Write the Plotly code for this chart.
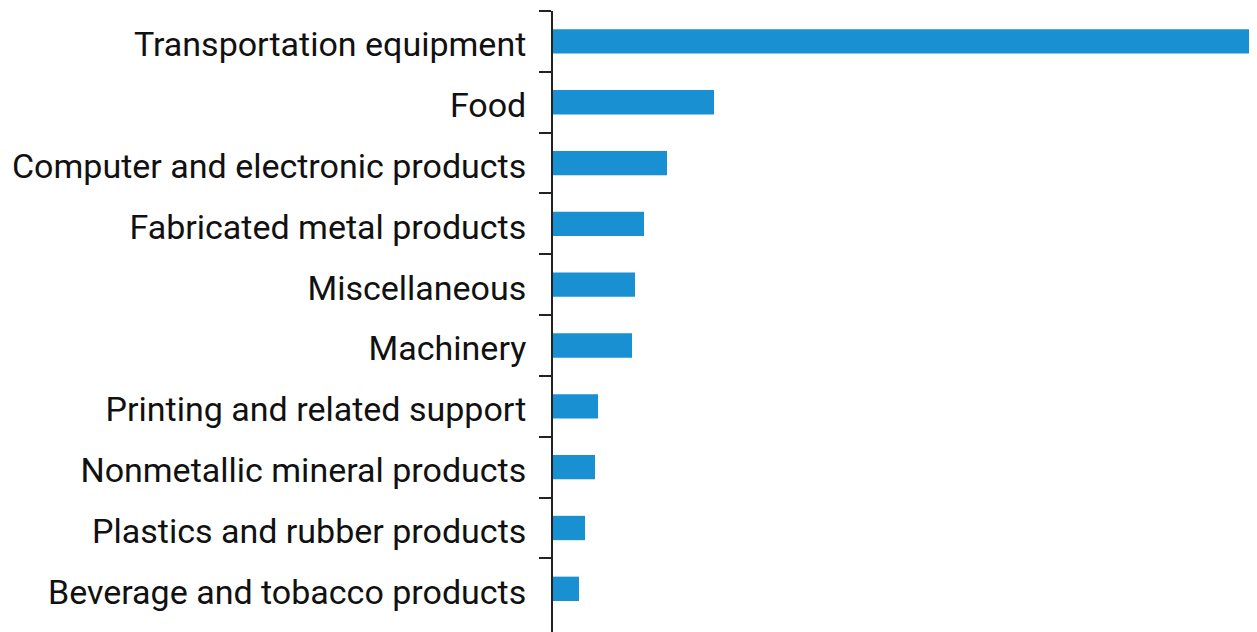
import plotly.graph_objects as go

categories = [
    "Transportation equipment",
    "Food",
    "Computer and electronic products",
    "Fabricated metal products",
    "Miscellaneous",
    "Machinery",
    "Printing and related support",
    "Nonmetallic mineral products",
    "Plastics and rubber products",
    "Beverage and tobacco products",
]
values = [705, 161, 114, 91, 82, 79, 45, 42, 32, 26]

fig = go.Figure(
    go.Bar(
        x=values,
        y=categories,
        orientation="h",
        width=0.4,
        marker=dict(color="#1890d2", line=dict(width=0)),
    )
)

fig.update_layout(
    width=1249,
    height=624,
    margin=dict(l=545, r=0, t=3, b=0, autoexpand=False),
    paper_bgcolor="white",
    plot_bgcolor="white",
    showlegend=False,
    font=dict(family="Roboto", size=34, color="#111111"),
)
fig.update_xaxes(
    range=[0, 704],
    visible=False,
    showgrid=False,
    zeroline=False,
)
fig.update_yaxes(
    type="category",
    categoryorder="array",
    categoryarray=categories,
    range=[9.71, -0.5],
    tickson="boundaries",
    ticks="outside",
    ticklen=12,
    tickwidth=1.5,
    tickcolor="#222222",
    showline=True,
    linecolor="#222222",
    linewidth=1.8,
    showgrid=False,
    zeroline=False,
    ticklabelstandoff=18,
    ticklabelshift=-3,
)

fig.write_html("out.html")
